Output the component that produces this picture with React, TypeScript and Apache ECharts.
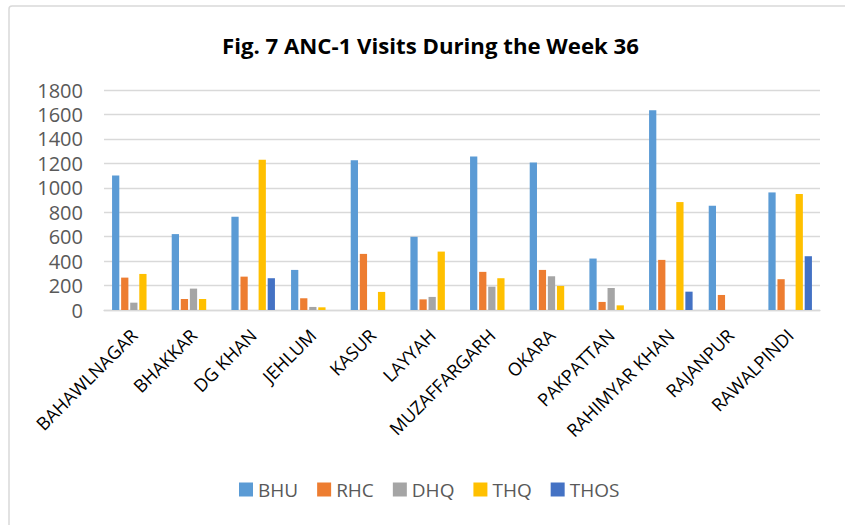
import React, { useEffect, useRef } from "react";
import * as echarts from "echarts";

const categories = [
  "BAHAWLNAGAR", "BHAKKAR", "DG KHAN", "JEHLUM", "KASUR", "LAYYAH",
  "MUZAFFARGARH", "OKARA", "PAKPATTAN", "RAHIMYAR KHAN", "RAJANPUR", "RAWALPINDI",
];
const bhu = [1100, 621, 763, 328, 1225, 599, 1255, 1206, 421, 1635, 853, 962];
const rhc = [265, 90, 273, 96, 459, 87, 312, 328, 66, 410, 123, 252];
const dhq = [60, 175, 0, 25, 0, 107, 191, 276, 180, 0, 0, 0];
const thq = [295, 90, 1230, 22, 148, 478, 260, 197, 38, 883, 0, 949];
const thos = [0, 0, 260, 0, 0, 0, 0, 0, 0, 150, 0, 440];
const seriesNames = ["BHU", "RHC", "DHQ", "THQ", "THOS"];
const seriesColors = ["#5B9BD5", "#ED7D31", "#A5A5A5", "#FFC000", "#4472C4"];
const yTicks = [0, 200, 400, 600, 800, 1000, 1200, 1400, 1600, 1800];

export default function App() {
  const ref = useRef<HTMLDivElement>(null);
  useEffect(() => {
    document.body.style.margin = "0";
    if (!ref.current) return;
    const chart = echarts.init(ref.current, null, { renderer: "svg" });
    const data = [bhu, rhc, dhq, thq, thos];
    chart.setOption({
      animation: false,
      backgroundColor: "#fff",
      textStyle: { fontFamily: "Open Sans" },
      title: {
        text: "Fig. 7 ANC-1 Visits During the Week 36",
        left: 217,
        top: 29,
        textStyle: { fontFamily: "Open Sans", fontWeight: "bold", fontSize: 22.2, color: "#000" },
      },
      graphic: [
        {
          type: "rect",
          shape: { x: 9, y: 6, width: 900, height: 600, r: 3 },
          style: { fill: "none", stroke: "#d9d9d9", lineWidth: 1.5 },
          silent: true,
        },
      ],
      legend: {
        data: seriesNames,
        left: 234,
        top: 475,
        icon: "rect",
        itemWidth: 14,
        itemHeight: 14,
        itemGap: 19,
        textStyle: { fontFamily: "Open Sans", fontSize: 19, color: "#595959" },
      },
      grid: { left: 104, right: 25, top: 90, bottom: 215 },
      xAxis: {
        type: "category",
        data: categories,
        axisLine: { lineStyle: { color: "#d9d9d9", width: 1.3 } },
        axisTick: { show: false },
        axisLabel: {
          rotate: 45,
          interval: 0,
          margin: 22,
          fontFamily: "Open Sans",
          fontSize: 18,
          color: "#000",
        },
      },
      yAxis: {
        type: "value",
        min: yTicks[0],
        max: yTicks[yTicks.length - 1],
        interval: 200,
        axisLine: { show: false },
        axisTick: { show: false },
        splitLine: { lineStyle: { color: "#d9d9d9", width: 1.3 } },
        axisLabel: {
          margin: 21,
          fontFamily: "Open Sans",
          fontSize: 20,
          color: "#595959",
          formatter: (v: number) => String(v),
        },
      },
      series: seriesNames.map((name, i) => ({
        name,
        type: "bar",
        data: data[i],
        barGap: "25%",
        barCategoryGap: "27%",
        itemStyle: { color: seriesColors[i] },
      })),
    });
    return () => chart.dispose();
  }, []);
  return <div ref={ref} style={{ width: 845, height: 525 }} />;
}
